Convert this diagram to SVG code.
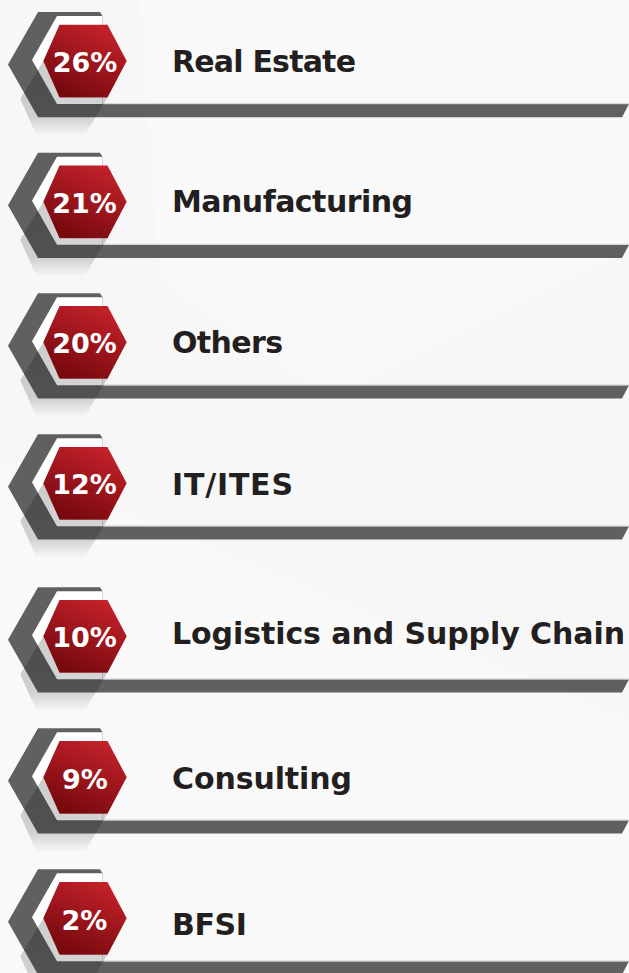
<svg xmlns="http://www.w3.org/2000/svg" xmlns:xlink="http://www.w3.org/1999/xlink" width="629" height="973" viewBox="0 0 629 973">
  <style>
    .pct { font-family: "DejaVu Sans", "Liberation Sans", sans-serif; font-weight: bold; font-size: 27px; fill: #ffffff; text-anchor: middle; }
    .lbl { font-family: "DejaVu Sans", "Liberation Sans", sans-serif; font-weight: bold; font-size: 30px; fill: #231f20; }
    .frame { fill: #5f6160; }
    .inner { fill: #ffffff; }
    .edge { fill: #dadada; }
  </style>
  <defs>
    <linearGradient id="redGrad" x1="0.85" y1="0" x2="0.35" y2="1">
      <stop offset="0" stop-color="#c8232c"/>
      <stop offset="1" stop-color="#76090e"/>
    </linearGradient>
    <linearGradient id="shadowGrad" gradientUnits="userSpaceOnUse" x1="0" y1="60" x2="0" y2="136">
      <stop offset="0" stop-color="#000" stop-opacity="0.2"/>
      <stop offset="0.75" stop-color="#000" stop-opacity="0.16"/>
      <stop offset="1" stop-color="#000" stop-opacity="0"/>
    </linearGradient>
    <g id="badge">
      <polygon class="frame" points="38,12 100,12 102.5,16 102.5,104 629,104 622,117.3 38,117.3 8,64.5"/>
      <polygon class="inner" points="57,16 102.5,16 102.5,104 57,104 32,60"/>
      <rect class="edge" x="102.5" y="103" width="526.5" height="1.2"/>
      <polygon fill="url(#shadowGrad)" points="43.3,61 20.3,99 36.5,135.5 84.5,135.5 107.5,97.5 59.5,97.5"/>
      <polygon fill="url(#redGrad)" points="43.3,61 59.5,24.7 107.5,24.7 126.7,61 107.5,97.5 59.5,97.5"/>
    </g>
  </defs>

  <g id="background">
    <rect x="0" y="0" width="629" height="973" fill="#f7f7f7"/>
    <polygon points="140,0 629,0 629,250 330,400 160,280" fill="#ffffff" opacity="0.3"/>
    <polygon points="0,460 629,720 629,973 0,973" fill="#ffffff" opacity="0.25"/>
  </g>

  <g id="item-real-estate">
    <use xlink:href="#badge"/>
    <text class="pct" x="85" y="72">26%</text>
    <text class="lbl" x="172" y="72" textLength="184">Real Estate</text>
  </g>

  <g id="item-manufacturing" transform="translate(0,140.7)">
    <use xlink:href="#badge"/>
    <text class="pct" x="84.5" y="72">21%</text>
    <text class="lbl" x="172" y="71" textLength="241">Manufacturing</text>
  </g>

  <g id="item-others" transform="translate(0,281.3)">
    <use xlink:href="#badge"/>
    <text class="pct" x="84.5" y="72">20%</text>
    <text class="lbl" x="172" y="72" textLength="111">Others</text>
  </g>

  <g id="item-it-ites" transform="translate(0,422.3)">
    <use xlink:href="#badge"/>
    <text class="pct" x="84.5" y="72">12%</text>
    <text class="lbl" x="172" y="72.7" textLength="121">IT/ITES</text>
  </g>

  <g id="item-logistics" transform="translate(0,575.3)">
    <use xlink:href="#badge"/>
    <text class="pct" x="84.5" y="72">10%</text>
    <text class="lbl" x="172" y="68.7" textLength="453">Logistics and Supply Chain</text>
  </g>

  <g id="item-consulting" transform="translate(0,716.3)">
    <use xlink:href="#badge"/>
    <text class="pct" x="85" y="72.5">9%</text>
    <text class="lbl" x="172" y="72.7" textLength="180">Consulting</text>
  </g>

  <g id="item-bfsi" transform="translate(0,857.3)">
    <use xlink:href="#badge"/>
    <text class="pct" x="84.5" y="72.7">2%</text>
    <text class="lbl" x="172" y="77.7" textLength="75">BFSI</text>
  </g>

  <g id="connectors"></g>
</svg>
